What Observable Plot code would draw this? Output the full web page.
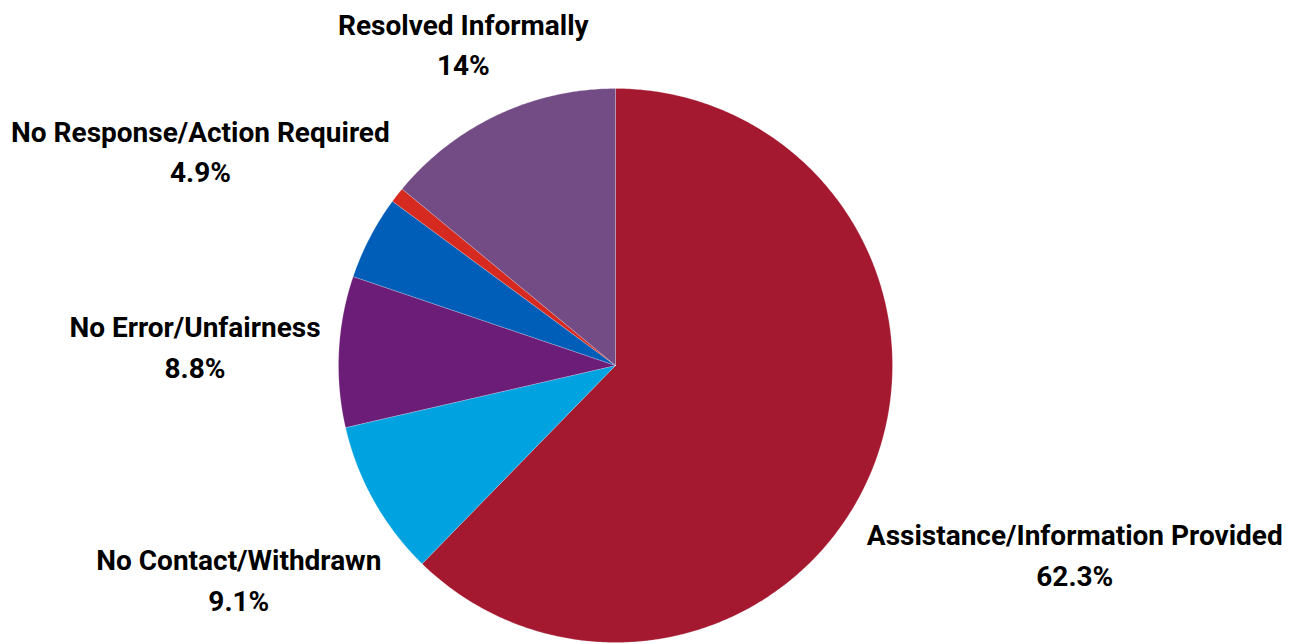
<!DOCTYPE html>
<html>
<head>
<meta charset="utf-8">
<script src="https://cdn.jsdelivr.net/npm/d3@7"></script>
<script src="https://cdn.jsdelivr.net/npm/@observablehq/plot@0.6"></script>
<style>
  html, body { margin: 0; padding: 0; background: #fff; }
  #chart svg { display: block; overflow: visible; }
</style>
</head>
<body>
<div id="chart"></div>
<script>
// ---- data ----
const categories = [
  "Assistance/Information Provided",
  "No Contact/Withdrawn",
  "No Error/Unfairness",
  "No Response/Action Required",
  "Other",
  "Resolved Informally"
];
const values = [62.3, 9.1, 8.8, 4.9, 0.9, 14];
const valueLabels = ["62.3%", "9.1%", "8.8%", "4.9%", "", "14%"];
const showLabel = [true, true, true, true, false, true];

// ---- styles / layout ----
const colors = ["#A4192F", "#00A3E0", "#6C1D77", "#005EB8", "#D62A20", "#734C86"];
const labelRadius = [1.79, 1.56, 1.52, 1.69, 1.5, 1.29];

const pie = d3.pie().sort(null).value(d => d.value)(
  categories.map((name, i) => ({name, value: values[i], i}))
);

// polygon points for each slice (unit circle, angle clockwise from top)
const pts = [];
for (const s of pie) {
  const n = Math.max(2, Math.ceil((s.endAngle - s.startAngle) / 0.01));
  pts.push({name: s.data.name, x: 0, y: 0});
  for (let k = 0; k <= n; k++) {
    const a = s.startAngle + (s.endAngle - s.startAngle) * k / n;
    pts.push({name: s.data.name, x: Math.sin(a), y: Math.cos(a)});
  }
  pts.push({name: s.data.name, x: 0, y: 0});
}

const labels = pie.filter(s => showLabel[s.data.i]).map(s => {
  const a = (s.startAngle + s.endAngle) / 2;
  const r = labelRadius[s.data.i];
  return {x: Math.sin(a) * r, y: Math.cos(a) * r, text: s.data.name + "\n" + valueLabels[s.data.i]};
});

const chart = Plot.plot({
  width: 1296,
  height: 644,
  marginLeft: 338,
  marginRight: 404,
  marginTop: 88,
  marginBottom: 2,
  x: {domain: [-1, 1], axis: null},
  y: {domain: [-1, 1], axis: null},
  color: {domain: categories, range: colors},
  style: {fontFamily: "Roboto, sans-serif", background: "#fff"},
  marks: [
    Plot.line(pts, {x: "x", y: "y", z: "name", fill: "name", stroke: "#ffffff", strokeOpacity: 0.35, strokeWidth: 0.6, curve: "linear-closed"}),
    Plot.text(labels, {x: "x", y: "y", text: "text", fontSize: 28, fontWeight: "bold", fill: "#000", lineHeight: 1.45, textAnchor: "middle"})
  ]
});
document.getElementById("chart").appendChild(chart);
</script>
</body>
</html>
